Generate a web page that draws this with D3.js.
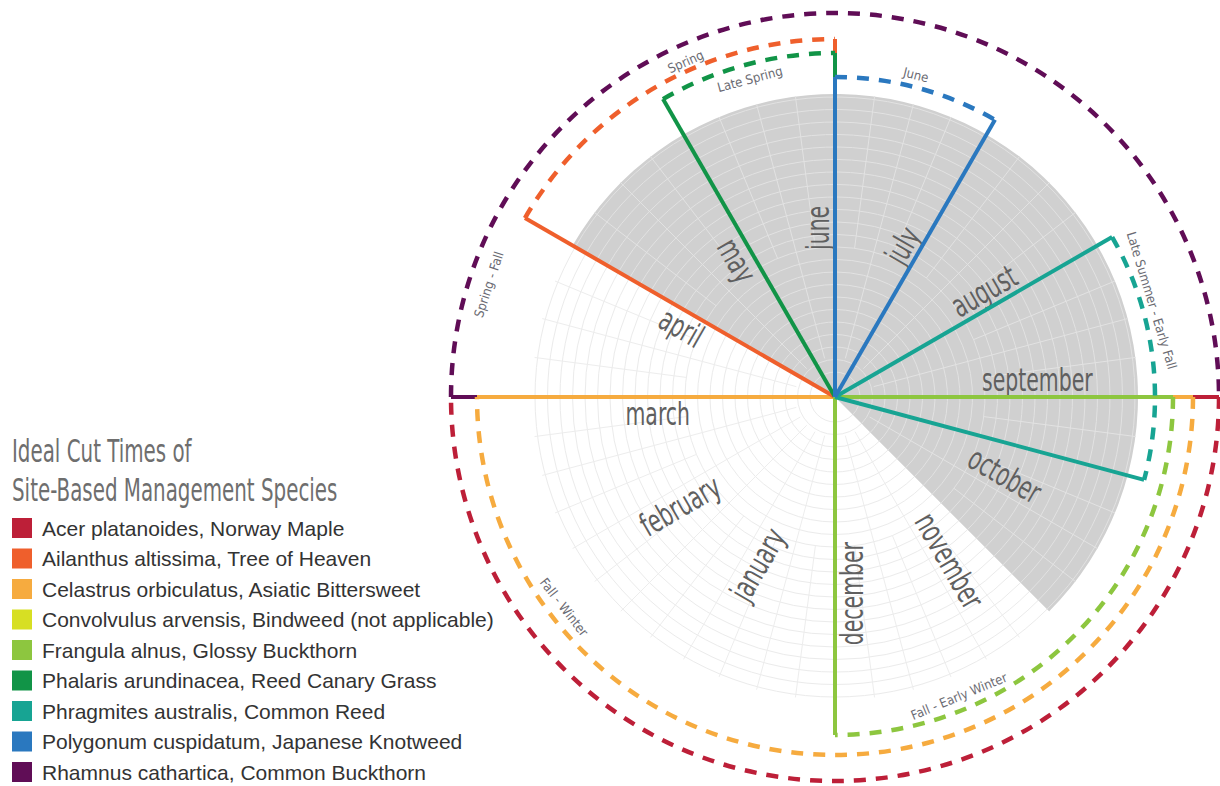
<!DOCTYPE html>
<html>
<head>
<meta charset="utf-8">
<script src="https://cdn.jsdelivr.net/npm/d3@7"></script>
<style>
  body { margin: 0; background: #fff; }
  svg { display: block; }
</style>
</head>
<body>
<div class="graph-goes-here"></div>
<script>
// month names, placed clockwise from the top of the wheel (one unit = one month)
var months = ["june", "july", "august", "september", "october", "november",
    "december", "january", "february", "march", "april", "may"];

var species = [
    "Acer platanoides, Norway Maple",
    "Ailanthus altissima, Tree of Heaven",
    "Celastrus orbiculatus, Asiatic Bittersweet",
    "Convolvulus arvensis, Bindweed (not applicable)",
    "Frangula alnus, Glossy Buckthorn",
    "Phalaris arundinacea, Reed Canary Grass",
    "Phragmites australis, Common Reed",
    "Polygonum cuspidatum, Japanese Knotweed",
    "Rhamnus cathartica, Common Buckthorn"
];

// cut window in month units (null = not applicable)
var cutStart = [3, 10, 3, null, 3, 11, 2, 0, 9];
var cutEnd = [9, 12, 9, null, 6, 12, 3.5, 1, 15];
var seasonNames = ["", "Spring", "Fall - Winter", "", "Fall - Early Winter",
    "Late Spring", "Late Summer - Early Fall", "June", "Spring - Fall"];

// gray band on the wheel, month units
var shadedSeason = [10, 16.5];

// styles
var colors = ["#bd1f38", "#ef5f2c", "#f6ab3f", "#d7df23", "#8dc63f",
    "#119447", "#17a493", "#2a78bf", "#600d56"];
var trackRadius = [384, 358, 358, 0, 338, 344, 320, 320, 384];
var showEndLine = [false, true, true, false, true, true, true, true, false];
var labelAt = [0, 0.6, 0.79, 0, 0.75, 0.5, 0.29, 0.47, 0.1];
var labelShift = [0, 9, -15, 0, -14, -15, 11, 12, -20];
var drawOrder = [0, 8, 2, 1, 5, 4, 6, 7];

var width = 1220, height = 786;
var cx = 835, cy = 397;
var outer = 303;
var condensed = "'Liberation Sans Narrow', 'DejaVu Sans Condensed', 'Arial Narrow', sans-serif";

var svg = d3.select(".graph-goes-here")
    .append("svg")
    .attr("width", width)
    .attr("height", height);

var wheel = svg.append("g")
    .attr("transform", "translate(" + cx + "," + cy + ")");

var angle = d3.scaleLinear().domain([0, 12]).range([0, 2 * Math.PI]);
var deg = d => angle(d) * 180 / Math.PI;
var px = (a, r) => r * Math.sin(a);
var py = (a, r) => -r * Math.cos(a);

function arcPath(r, a0, a1) {
    var p = d3.path();
    p.arc(0, 0, r, a0 - Math.PI / 2, a1 - Math.PI / 2, false);
    return p.toString();
}

// grid rings and spokes on the white part
var rings = d3.range(25, outer, 12.5);
var spokes = d3.range(0, 12, 0.25);
var spokeStart = d => d % 0.5 == 0 ? 40 : 150;

wheel.append("g").selectAll("circle")
    .data(rings)
    .join("circle")
    .attr("r", d => d)
    .attr("fill", "none")
    .attr("stroke", "#ebebeb")
    .attr("stroke-width", 1);

wheel.append("g").selectAll("line")
    .data(spokes)
    .join("line")
    .attr("x1", d => px(angle(d), spokeStart(d)))
    .attr("y1", d => py(angle(d), spokeStart(d)))
    .attr("x2", d => px(angle(d), outer))
    .attr("y2", d => py(angle(d), outer))
    .attr("stroke", "#ededed")
    .attr("stroke-width", 1);

// gray season band
wheel.append("path")
    .attr("d", d3.arc()
        .innerRadius(0)
        .outerRadius(outer)
        .startAngle(angle(shadedSeason[0]))
        .endAngle(angle(shadedSeason[1])))
    .attr("fill", "#d0d0d0");

// white grid inside the gray band
wheel.append("g").selectAll("path")
    .data(rings)
    .join("path")
    .attr("d", d => arcPath(d, angle(shadedSeason[0]), angle(shadedSeason[1])))
    .attr("fill", "none")
    .attr("stroke", "#e2e2e2")
    .attr("stroke-width", 1);

wheel.append("g").selectAll("line")
    .data(spokes.map(d => d < 4.5 ? d + 12 : d).filter(d => d > shadedSeason[0] && d < shadedSeason[1]))
    .join("line")
    .attr("x1", d => px(angle(d), spokeStart(d)))
    .attr("y1", d => py(angle(d), spokeStart(d)))
    .attr("x2", d => px(angle(d), outer))
    .attr("y2", d => py(angle(d), outer))
    .attr("stroke", "#e2e2e2")
    .attr("stroke-width", 1);

// month labels along the month boundaries
wheel.append("g").selectAll("text")
    .data(months)
    .join("text")
    .attr("transform", (d, i) => {
        var a = deg(i);
        if (a >= 180) return "rotate(" + (a + 90) + ") translate(-145,28) scale(0.71,1)";
        return "rotate(" + (a - 90) + ") translate(147,-6) scale(0.71,1)";
    })
    .attr("text-anchor", (d, i) => deg(i) >= 180 ? "end" : "start")
    .style("font-family", condensed)
    .style("font-size", "32px")
    .attr("fill", "#5f5f5f")
    .text(d => d);

// cut windows: radial lines and dashed arcs
drawOrder.forEach(i => {
    var r = trackRadius[i];
    var a0 = angle(cutStart[i]), a1 = angle(cutEnd[i]);
    var g = wheel.append("g");
    g.selectAll("line")
        .data(showEndLine[i] ? [a0, a1] : [a0])
        .join("line")
        .attr("x1", 0).attr("y1", 0)
        .attr("x2", d => px(d, r))
        .attr("y2", d => py(d, r))
        .attr("stroke", colors[i])
        .attr("stroke-width", 4);
    g.append("path")
        .attr("d", arcPath(r, a0, a1))
        .attr("fill", "none")
        .attr("stroke", colors[i])
        .attr("stroke-width", 4.5)
        .attr("stroke-dasharray", "12,10");
});

// season names along the arcs
drawOrder.filter(i => seasonNames[i] != "").forEach(i => {
    var m = cutStart[i] + labelAt[i] * (cutEnd[i] - cutStart[i]);
    var a = angle(m);
    var r = trackRadius[i] + labelShift[i];
    var d = deg(m) % 360;
    var rot = (d > 90 && d < 270) ? d + 180 : d;
    wheel.append("text")
        .attr("transform", "translate(" + px(a, r) + "," + py(a, r) + ") rotate(" + rot + ")")
        .attr("text-anchor", "middle")
        .attr("dominant-baseline", "central")
        .style("font-family", condensed)
        .style("font-size", "13px")
        .attr("fill", "#6b6b73")
        .text(seasonNames[i]);
});

// legend
var legend = svg.append("g");
var titles = ["Ideal Cut Times of", "Site-Based Management Species"];
legend.selectAll("text.title")
    .data(titles)
    .join("text")
    .attr("class", "title")
    .attr("transform", (d, i) => "translate(12," + (462 + i * 39) + ") scale(0.69,1)")
    .style("font-family", condensed)
    .style("font-size", "32px")
    .attr("fill", "#6e6e6e")
    .text(d => d);

var rows = legend.selectAll("g.row")
    .data(species)
    .join("g")
    .attr("class", "row")
    .attr("transform", (d, i) => "translate(12," + (528 + i * 30.5) + ")");

rows.append("rect")
    .attr("x", 0).attr("y", -10)
    .attr("width", 20).attr("height", 20)
    .attr("fill", (d, i) => colors[i]);

rows.append("text")
    .attr("x", 30)
    .attr("dominant-baseline", "central")
    .style("font-family", "'Liberation Sans', Arial, sans-serif")
    .style("font-size", "21px")
    .attr("fill", "#333")
    .text(d => d);
</script>
</body>
</html>
